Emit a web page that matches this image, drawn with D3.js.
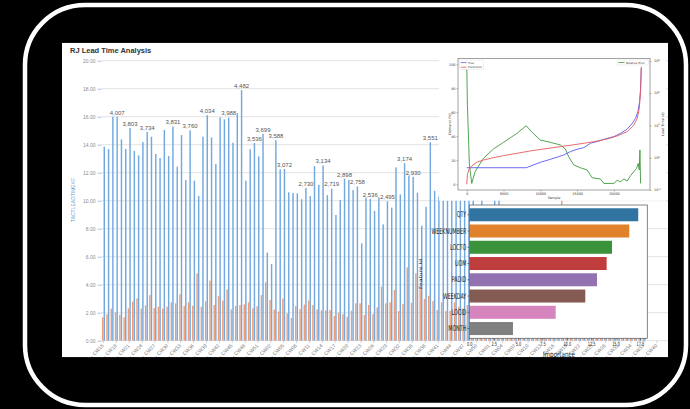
<!DOCTYPE html>
<html><head><meta charset="utf-8">
<script src="https://cdn.jsdelivr.net/npm/d3@7/dist/d3.min.js"></script>
<style>html,body{margin:0;padding:0;background:#000;overflow:hidden}svg{display:block}</style>
</head><body>
<svg id="chart" width="690" height="409"></svg>
<script>
// ---------------- main chart data ----------------
const yearWeeks = [[2019, 15, 52], [2020, 1, 52], [2021, 1, 42]];
const categories = [];
yearWeeks.forEach(([yr, a, b]) => { for (let w = a; w <= b; w++) categories.push(yr + ' - CW' + String(w).padStart(2, '0')); });

const blueSeries = [
  13.86,13.69,16.0,16.0,14.38,13.69,15.19,13.55,13.24,14.19,
  14.91,14.57,13.33,13.05,15.05,13.19,15.3,12.43,14.69,11.48,
  15.02,11.43,10.33,14.57,16.11,14.52,12.62,15.95,15.81,15.93,
  14.14,16.24,17.9,11.43,13.67,14.12,13.17,14.77,6.29,5.47,
  14.33,12.24,12.27,10.6,10.55,10.52,10.11,10.9,10.33,12.47,
  11.12,12.52,10.4,10.86,8.98,10.05,11.57,11.48,10.76,11.01,
  6.95,10.21,10.13,9.26,10.24,8.31,9.96,9.5,12.38,10.45,
  12.68,11.79,11.7,10.57,8.21,9.57,14.18,10.71,10.29,11.2,
  10.8,12.1,11.5,10.9,11.8,10.6,10.7,9.2,10.8,9.4,
  9.1,10.2,10.5,9.3,8.9,9.5,9.0,8.7,9.4,9.2,
  8.8,9.5,9.1,8.6,9.3,9.0,8.4,9.2,9.6,8.9,
  9.3,8.7,9.1,9.4,8.8,9.0,9.5,8.6,9.2,8.9,
  9.3,8.5,9.1,8.8,9.4,8.7,9.0,null,null,null,
  null,null
];
const orangeSeries = [
  1.67,1.9,2.29,2.02,1.86,1.67,2.31,2.79,3.02,2.29,
  2.52,3.26,2.33,2.43,2.29,2.43,2.74,2.67,3.31,2.48,
  2.74,2.5,4.81,2.43,2.81,4.29,2.55,3.19,2.86,3.67,
  2.24,2.48,2.55,2.6,2.74,2.31,2.46,3.26,4.18,2.9,
  2.22,2.08,3.02,1.95,1.62,2.48,2.25,2.58,2.86,2.55,
  2.24,2.17,2.17,2.19,1.76,2.0,1.9,1.71,2.14,2.67,
  2.67,1.83,2.55,1.9,2.38,3.86,2.67,2.74,3.62,2.12,
  2.62,5.24,2.71,4.81,3.67,2.98,3.21,2.83,2.19,2.74,
  2.12,2.14,2.74,2.43,2.31,2.55,2.6,2.3,2.8,2.2,
  2.5,2.4,2.7,2.3,2.6,2.2,2.9,2.5,2.4,2.7,
  2.3,2.6,2.8,2.2,2.5,2.4,2.9,10.4,2.6,2.3,
  2.5,2.7,2.4,2.2,2.6,2.8,2.3,2.5,2.4,2.6,
  2.7,2.3,2.5,2.4,2.8,2.2,2.6,null,null,null,
  null,null
];
const labelIndex = [3,6,10,16,20,24,29,32,35,37,40,42,47,51,53,56,59,62,66,70,72,76];
const labelText = ['4,007','3,803','3,734','3,831','3,760','4,034','3,988','4,482','3,536','3,699','3,588','3,072','2,730','3,134','2,719','2,898','2,758','2,536','2,495','3,174','2,930','3,551'];
const yTicks = [0,2,4,6,8,10,12,14,16,18,20];

// ---------------- inset 1 (line chart) data ----------------
const sampleTrue = [0,8091,10000,11364,13182,14091,15000,15909,16818,17955,19091,20000,20909,21818,22500,22955,23273,23500,23636,23727];
const demandTrue = [13.8,13.8,18.3,20.8,24.4,27.2,29.2,30.5,34.2,36.0,38.3,39.7,42.5,46.0,50.8,55.0,60.6,68.9,80.0,96.7];
const samplePred = [0,91,273,682,1364,2273,3636,5000,6818,8636,10455,12727,15000,17273,19091,20455,21818,22727,23182,23455,23636,23727];
const demandPred = [0,7.8,12,15.3,18.3,20.2,22.2,23.9,25.8,27.8,29.4,31.4,33.3,35.5,37.8,40.3,43.9,49.4,55,63.3,77.2,98];
const sampleErr = [0,91,364,682,1136,2273,3636,5000,6818,8091,8864,10000,11364,12727,13409,13864,14545,15455,16364,17045,18182,18636,20000,20455,20909,21364,21818,22273,22727,23091,23318,23455,23545,23636];
const relError = [850,44,0.6,0.16,0.37,0.96,1.87,3.0,5.7,9.8,6.2,3.55,3.0,2.5,1.87,1.07,0.6,0.49,0.42,0.24,0.22,0.16,0.16,0.2,0.18,0.22,0.19,0.28,0.37,0.47,0.67,0.42,1.74,0.16];
const demandTicks = [0,20,40,60,80,100];
const sampleTicks = [0,5000,10000,15000,20000];
const errTicks = [0.1,1,10,100,1000];
const errTickExp = ['-1','0','1','2','3'];

// ---------------- inset 2 (feature importance) data ----------------
const features = ['QTY','WEEKNUMBER','LOCTO','UOM','PADID','WEEKDAY','LOCID','MONTH'];
const importance = [17.33,16.41,14.64,14.09,13.1,11.9,8.86,4.48];
const featureColors = ['#3274a1','#e1812c','#3a923a','#c03d3e','#9372b2','#845b53','#d684bd','#7f7f7f'];
const importanceTicks = [0,2.5,5,7.5,10,12.5,15,17.5];

// ================= drawing =================
const svg = d3.select('#chart');
svg.append('rect').attr('width', 690).attr('height', 409).attr('fill', '#000');
svg.append('rect').attr('x', 25).attr('y', 5).attr('width', 661).attr('height', 400)
  .attr('rx', 60).attr('ry', 60).attr('fill', 'none').attr('stroke', '#fff').attr('stroke-width', 4.5);

const P = {x: 62, y: 42.7, w: 606, h: 314.6};
const defs = svg.append('defs');
defs.append('clipPath').attr('id', 'panelClip').append('rect')
  .attr('x', P.x).attr('y', P.y).attr('width', P.w).attr('height', P.h);
const main = svg.append('g').attr('clip-path', 'url(#panelClip)');
main.append('rect').attr('x', P.x).attr('y', P.y).attr('width', P.w).attr('height', P.h).attr('fill', '#fff');

const SANS = '"Liberation Sans", Arial, sans-serif';
const DJ = '"DejaVu Sans", sans-serif';

main.append('text').attr('x', 70).attr('y', 52.7).text('RJ Lead Time Analysis')
  .attr('font-family', SANS).attr('font-weight', 'bold').attr('font-size', 7.5).attr('fill', '#333');

const y = d3.scaleLinear().domain([0, 20]).range([340.7, 60.7]);
const x = d3.scaleBand().domain(categories).range([101.35, 101.35 + categories.length * 4.29]);
const xs = d3.scaleBand().domain(['orange', 'blue']).range([0, x.bandwidth()]).paddingInner(0.1).paddingOuter(0.39);

// gridlines
main.append('g').selectAll('line').data(yTicks).join('line')
  .attr('x1', 101.5).attr('x2', 668).attr('y1', d => y(d)).attr('y2', d => y(d))
  .attr('stroke', '#d6d6d6').attr('stroke-width', 0.7);

// y axis
const yAx = main.append('g').attr('transform', 'translate(101.5,0)')
  .call(d3.axisLeft(y).tickValues(yTicks).tickSize(4).tickPadding(2).tickFormat(d3.format('.2f')));
yAx.select('.domain').remove();
yAx.selectAll('line').attr('stroke', '#8eb4e3').attr('stroke-width', 0.8);
yAx.selectAll('text').attr('font-family', SANS).attr('font-size', 5).attr('fill', '#8c8c8c');

main.append('text').attr('transform', 'translate(75,200) rotate(-90)').attr('text-anchor', 'middle')
  .attr('font-family', SANS).attr('font-size', 5).attr('fill', '#5b9bd5').text('TACTLEADTIMEKF');

// bars
const idx = d3.range(categories.length);
main.append('g').selectAll('rect').data(idx.filter(i => orangeSeries[i] != null)).join('rect')
  .attr('x', i => x(categories[i]) + xs('orange')).attr('width', xs.bandwidth())
  .attr('y', i => y(orangeSeries[i])).attr('height', i => y(0) - y(orangeSeries[i]))
  .attr('fill', '#f09e78');
main.append('g').selectAll('rect').data(idx.filter(i => blueSeries[i] != null)).join('rect')
  .attr('x', i => x(categories[i]) + xs('blue')).attr('width', xs.bandwidth())
  .attr('y', i => y(blueSeries[i])).attr('height', i => y(0) - y(blueSeries[i]))
  .attr('fill', '#72a8de');

// data labels
main.append('g').selectAll('text').data(labelIndex).join('text')
  .attr('x', i => x(categories[i]) + xs('blue') + xs.bandwidth() / 2)
  .attr('y', i => y(blueSeries[i]) - 2.2)
  .attr('text-anchor', 'middle').attr('font-family', SANS).attr('font-size', 6).attr('fill', '#555')
  .text((i, k) => labelText[k]);

// x axis
const xAx = main.append('g').attr('transform', 'translate(0,340.7)')
  .call(d3.axisBottom(x).tickValues(categories.filter((d, i) => i % 3 === 0)).tickSize(2.5));
xAx.select('.domain').remove();
xAx.selectAll('line').attr('stroke', '#bbb').attr('stroke-width', 0.6);
xAx.selectAll('text').attr('x', 0).attr('y', 0).attr('dy', '0.35em')
  .attr('transform', 'translate(-0.5,4) rotate(-45)').style('text-anchor', 'end')
  .attr('font-family', SANS).attr('font-size', 5).attr('fill', '#777');

// ================= inset 1: line chart =================
const ins1 = svg.append('g');
ins1.append('rect').attr('x', 439).attr('y', 54).attr('width', 227).attr('height', 146.7).attr('fill', '#fff');
const F = {l: 458, r: 650, t: 58.5, b: 190};
const sx = d3.scaleLinear().domain([-1186, 24913]).range([F.l, F.r]);
const sy = d3.scaleLinear().domain([-4.75, 104.8]).range([F.b, F.t]);
const sl = d3.scaleLog().domain([0.1, 1000]).range([190, 61]);

const lineT = d3.line().x((d, i) => sx(sampleTrue[i])).y(d => sy(d));
const lineP = d3.line().x((d, i) => sx(samplePred[i])).y(d => sy(d));
const lineE = d3.line().x((d, i) => sx(sampleErr[i])).y(d => sl(d));
ins1.append('path').attr('d', lineE(relError)).attr('fill', 'none').attr('stroke', '#3c9a3c').attr('stroke-width', 0.9);
ins1.append('path').attr('d', lineT(demandTrue)).attr('fill', 'none').attr('stroke', '#5a5aee').attr('stroke-width', 0.9);
ins1.append('path').attr('d', lineP(demandPred)).attr('fill', 'none').attr('stroke', '#e85a5a').attr('stroke-width', 0.9);

ins1.append('rect').attr('x', F.l).attr('y', F.t).attr('width', F.r - F.l).attr('height', F.b - F.t)
  .attr('fill', 'none').attr('stroke', '#444').attr('stroke-width', 0.5);

const tinyAxis = (sel) => {
  sel.select('.domain').remove();
  sel.selectAll('line').attr('stroke', '#444').attr('stroke-width', 0.4);
  sel.selectAll('text').attr('font-family', DJ).attr('font-size', 3.4).attr('fill', '#333');
};
ins1.append('g').attr('transform', `translate(${F.l},0)`)
  .call(d3.axisLeft(sy).tickValues(demandTicks).tickSize(1.5).tickPadding(1)).call(tinyAxis);
ins1.append('g').attr('transform', `translate(0,${F.b})`)
  .call(d3.axisBottom(sx).tickValues(sampleTicks).tickSize(1.5).tickPadding(1).tickFormat(d3.format('d'))).call(tinyAxis);
ins1.append('g').attr('transform', `translate(${F.r},0)`)
  .call(d3.axisRight(sl).tickValues(errTicks).tickSize(1.5).tickFormat(() => '')).call(tinyAxis);
ins1.append('g').selectAll('text').data(errTicks).join('text')
  .attr('x', F.r + 4).attr('y', d => sl(d) + 1.2).attr('font-family', DJ).attr('font-size', 3.4).attr('fill', '#333')
  .each(function (d, i) {
    const t = d3.select(this);
    t.append('tspan').text('10');
    t.append('tspan').attr('dy', -1.3).attr('font-size', 2.4).text(errTickExp[i]);
  });
ins1.append('text').attr('transform', 'translate(451,124) rotate(-90)').attr('text-anchor', 'middle')
  .attr('font-family', DJ).attr('font-size', 3.4).attr('fill', '#333').text('Demand (%)');
ins1.append('text').attr('transform', 'translate(664,124) rotate(-90)').attr('text-anchor', 'middle')
  .attr('font-family', DJ).attr('font-size', 3.4).attr('fill', '#333').text('Lead Time (d)');
ins1.append('text').attr('x', (F.l + F.r) / 2).attr('y', 199).attr('text-anchor', 'middle')
  .attr('font-family', DJ).attr('font-size', 3.4).attr('fill', '#333').text('Sample');

// legends
const leg1 = ins1.append('g');
leg1.append('rect').attr('x', 459.5).attr('y', 60).attr('width', 24).attr('height', 9.5)
  .attr('fill', '#fff').attr('stroke', '#ccc').attr('stroke-width', 0.3).attr('rx', 0.6);
[['True', '#5a5aee', 62.6], ['Prediction', '#e85a5a', 67.2]].forEach(([t, c, yy]) => {
  leg1.append('line').attr('x1', 460.8).attr('x2', 466.5).attr('y1', yy).attr('y2', yy).attr('stroke', c).attr('stroke-width', 0.8);
  leg1.append('text').attr('x', 468).attr('y', yy + 1).attr('font-family', DJ).attr('font-size', 2.8).attr('fill', '#333').text(t);
});
const leg2 = ins1.append('g');
leg2.append('rect').attr('x', 617).attr('y', 60).attr('width', 31.5).attr('height', 5)
  .attr('fill', '#fff').attr('stroke', '#ccc').attr('stroke-width', 0.3).attr('rx', 0.6);
leg2.append('line').attr('x1', 618.3).attr('x2', 624.5).attr('y1', 62.5).attr('y2', 62.5).attr('stroke', '#3c9a3c').attr('stroke-width', 0.8);
leg2.append('text').attr('x', 626).attr('y', 63.5).attr('font-family', DJ).attr('font-size', 2.8).attr('fill', '#333').text('Relative Error');

// ================= inset 2: feature importance =================
const ins2 = svg.append('g');
const B = {l: 469.3, r: 647.3, t: 205, b: 338.3};
const fx = d3.scaleLinear().domain([0, 18.26]).range([B.l, B.r]);
const fy = d3.scaleBand().domain(features).range([B.t, B.b]).padding(0.2);
ins2.append('rect').attr('x', B.l).attr('y', B.t).attr('width', B.r - B.l).attr('height', B.b - B.t).attr('fill', '#fff');
ins2.append('g').selectAll('rect').data(features).join('rect')
  .attr('x', B.l).attr('y', d => fy(d)).attr('height', fy.bandwidth())
  .attr('width', (d, i) => fx(importance[i]) - B.l)
  .attr('fill', (d, i) => featureColors[i]);
ins2.append('rect').attr('x', B.l).attr('y', B.t).attr('width', B.r - B.l).attr('height', B.b - B.t)
  .attr('fill', 'none').attr('stroke', '#666').attr('stroke-width', 0.8);

const fyAx = ins2.append('g').attr('transform', `translate(${B.l},0)`)
  .call(d3.axisLeft(fy).tickSize(2));
fyAx.select('.domain').remove();
fyAx.selectAll('line').attr('stroke', '#333').attr('stroke-width', 0.5);
fyAx.selectAll('text').attr('x', 0).attr('transform', 'translate(-3,0) scale(0.6,1)')
  .attr('font-family', DJ).attr('font-size', 8).attr('fill', '#222');

const fxAx = ins2.append('g').attr('transform', `translate(0,${B.b})`)
  .call(d3.axisBottom(fx).tickValues(importanceTicks).tickSize(2).tickPadding(1.5).tickFormat(d3.format('.1f')));
fxAx.select('.domain').remove();
fxAx.selectAll('line').attr('stroke', '#333').attr('stroke-width', 0.5);
fxAx.selectAll('text').attr('transform', 'scale(0.6,1)')
  .attr('font-family', DJ).attr('font-size', 5.8).attr('fill', '#222');

ins2.append('text').attr('transform', 'translate(559,357) scale(0.72,1)').attr('text-anchor', 'middle')
  .attr('font-family', DJ).attr('font-size', 7.8).attr('fill', '#222').text('Importance');
ins2.append('text').attr('transform', 'translate(422,274) scale(0.7,1) rotate(-90)').attr('text-anchor', 'middle')
  .attr('font-family', DJ).attr('font-size', 6).attr('fill', '#222').text('Feature Id');
</script>
</body></html>
